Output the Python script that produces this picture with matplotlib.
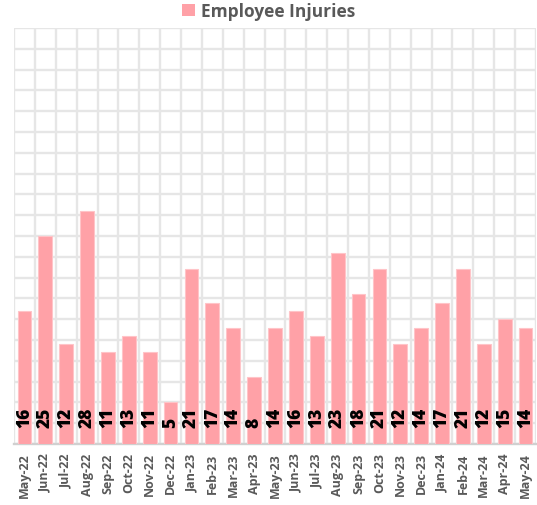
import matplotlib
matplotlib.use('Agg')
import matplotlib.pyplot as plt
from matplotlib.patches import Patch
import numpy as np

months = ['May-22', 'Jun-22', 'Jul-22', 'Aug-22', 'Sep-22', 'Oct-22', 'Nov-22',
          'Dec-22', 'Jan-23', 'Feb-23', 'Mar-23', 'Apr-23', 'May-23', 'Jun-23',
          'Jul-23', 'Aug-23', 'Sep-23', 'Oct-23', 'Nov-23', 'Dec-23', 'Jan-24',
          'Feb-24', 'Mar-24', 'Apr-24', 'May-24']
injuries = [16, 25, 12, 28, 11, 13, 11, 5, 21, 17, 14, 8, 14, 16, 13, 23,
            18, 21, 12, 14, 17, 21, 12, 15, 14]
series_name = 'Employee Injuries'

bar_color = '#ffa1a7'
text_gray = '#595959'
grid_color = '#e6e6e6'

plt.rcParams['font.family'] = ['Open Sans', 'DejaVu Sans']

fig = plt.figure(figsize=(5.37, 5.06), dpi=100)
ax = fig.add_axes([14 / 537, 61 / 506, 522 / 537, 416 / 506])

x = np.arange(len(months))
ax.bar(x, injuries, width=0.66, color=bar_color, edgecolor='#ffc4c8',
       linewidth=0.8, zorder=3)

# value labels, rotated, sitting near the base of each bar
for xi, v in zip(x, injuries):
    ax.annotate(str(v), xy=(xi, 0), xytext=(0, 12), textcoords='offset points',
                rotation=90, ha='center', va='bottom', fontsize=12.5,
                fontweight='heavy', color='black', zorder=4)

ax.set_xlim(-0.5, len(months) - 0.5)
ax.set_ylim(0, 50)
ax.set_xticks(x)
ax.set_xticklabels(months, rotation=90, fontsize=9, fontweight='bold',
                   color=text_gray)
ax.set_xticks(np.arange(-0.5, len(months), 1), minor=True)
ax.set_yticks(np.arange(0, 50.1, 2.5))
ax.set_yticklabels([])
ax.tick_params(axis='both', which='both', length=0)
ax.tick_params(axis='x', pad=6)

ax.grid(True, which='minor', axis='x', color=grid_color, linewidth=1.7, zorder=0)
ax.grid(True, which='major', axis='y', color=grid_color, linewidth=1.7, zorder=0)

for side in ['top', 'right', 'left']:
    ax.spines[side].set_visible(False)
ax.spines['bottom'].set_color('#d0d0d0')
ax.spines['bottom'].set_linewidth(1.7)

fig.legend(handles=[Patch(facecolor=bar_color, label=series_name)],
           loc='center', bbox_to_anchor=(0.5, 1 - 12 / 506), frameon=False,
           prop={'size': 12.5, 'weight': 'bold'}, labelcolor=text_gray,
           handlelength=0.75, handleheight=0.75, handletextpad=0.35)

fig.savefig('out.png', dpi=100)
